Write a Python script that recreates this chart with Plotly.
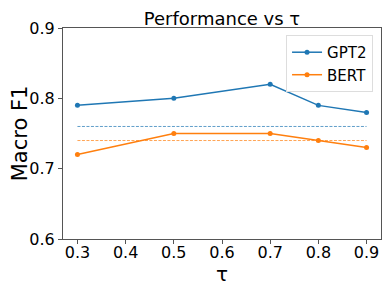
import plotly.graph_objects as go

tau = [0.3, 0.5, 0.7, 0.8, 0.9]
gpt2 = [0.79, 0.80, 0.82, 0.79, 0.78]
bert = [0.72, 0.75, 0.75, 0.74, 0.73]
gpt2_baseline = 0.76
bert_baseline = 0.74
x_ticks = [0.3, 0.4, 0.5, 0.6, 0.7, 0.8, 0.9]
y_ticks = [0.6, 0.7, 0.8, 0.9]

BLUE = "#1f77b4"
ORANGE = "#ff7f0e"
FONT = "DejaVu Sans"

fig = go.Figure()
fig.add_trace(go.Scatter(x=tau, y=gpt2, mode="lines+markers", name="GPT2",
                         line=dict(color=BLUE, width=1.5), marker=dict(size=5, color=BLUE)))
fig.add_trace(go.Scatter(x=tau, y=bert, mode="lines+markers", name="BERT",
                         line=dict(color=ORANGE, width=1.5), marker=dict(size=5, color=ORANGE)))
fig.add_trace(go.Scatter(x=[tau[0], tau[-1]], y=[gpt2_baseline] * 2, mode="lines",
                         showlegend=False, opacity=0.7,
                         line=dict(color=BLUE, width=1, dash="3px,1.5px")))
fig.add_trace(go.Scatter(x=[tau[0], tau[-1]], y=[bert_baseline] * 2, mode="lines",
                         showlegend=False, opacity=0.7,
                         line=dict(color=ORANGE, width=1, dash="3px,1.5px")))

axis_common = dict(showgrid=False, zeroline=False, showline=True, linecolor="#555",
                   linewidth=1, mirror=True, ticks="outside", ticklen=4,
                   tickcolor="#555", automargin=False,
                   tickfont=dict(family=FONT, size=16, color="black"))

# the page body adds an 8px offset; size the figure to the remaining window
W, H, OFF = 390, 293, 8
fig.update_layout(
    width=W - OFF, height=H - OFF,
    margin=dict(l=63 - OFF, r=9, t=28 - OFF, b=54),
    paper_bgcolor="white", plot_bgcolor="white",
    font=dict(family=FONT, color="black"),
    title=dict(text="Performance vs τ", x=0.5, xref="paper", xanchor="center",
               y=1 - (25 - OFF) / (H - OFF), yref="container", yanchor="bottom",
               automargin=False,
               font=dict(family=FONT, size=18, color="black")),
    xaxis=dict(range=[0.27, 0.93], tickvals=x_ticks,
               ticktext=[f"{v:.1f}" for v in x_ticks],
               ticklabelstandoff=-5,
               title=dict(text="τ", font=dict(family=FONT, size=20), standoff=0),
               **axis_common),
    yaxis=dict(range=[0.6, 0.9], tickvals=y_ticks,
               ticktext=[f"{v:.1f}" for v in y_ticks],
               title=dict(text="Macro F1", font=dict(family=FONT, size=21), standoff=4),
               **axis_common),
    legend=dict(x=0.975, y=0.967, xanchor="right", yanchor="top",
                bgcolor="rgba(255,255,255,0.8)", bordercolor="#ddd", borderwidth=1,
                font=dict(family=FONT, size=15, color="black")),
)

fig.write_html("out.html")
